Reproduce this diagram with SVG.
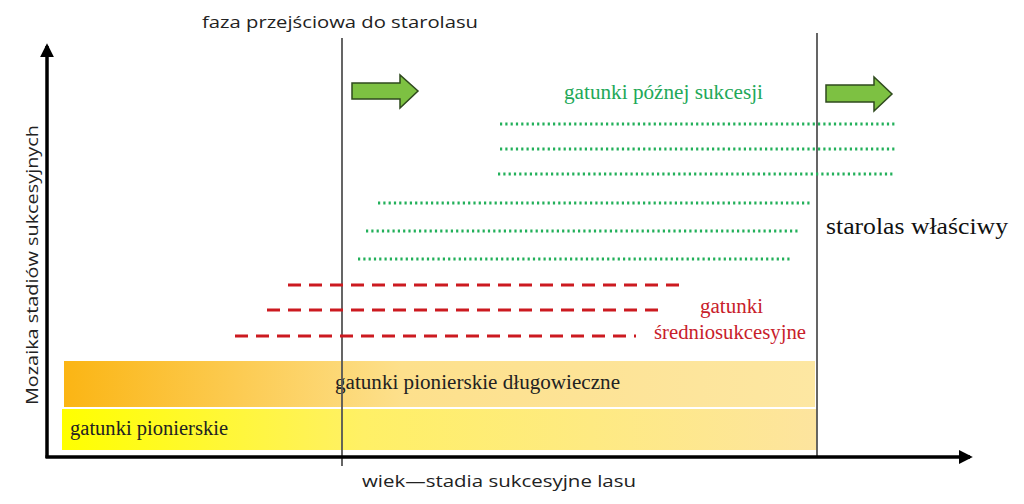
<svg xmlns="http://www.w3.org/2000/svg" width="1024" height="504" viewBox="0 0 1024 504">
<style>
.sans{font-family:"Open Sans","DejaVu Sans",sans-serif;fill:#222}
.serif{font-family:"Liberation Serif","DejaVu Serif",serif}
.axis{stroke:#000;stroke-width:3.5;fill:none}
.vline{stroke:#555;stroke-width:1.8}
.green{stroke:#22b05a;stroke-width:2.8;stroke-dasharray:2.2 3.1;fill:none}
.red{stroke:#cc1a20;stroke-width:3;stroke-dasharray:13 8;fill:none}
.garrow{fill:#7dc142;stroke:#2f4a1e;stroke-width:1.5;stroke-linejoin:miter}
</style>
<defs>
<linearGradient id="gOrange" x1="0" x2="1" y1="0" y2="0">
<stop offset="0" stop-color="#fbb514"/>
<stop offset="0.45" stop-color="#fde08c"/>
<stop offset="1" stop-color="#fde7a2"/>
</linearGradient>
<linearGradient id="gYellow" x1="0" x2="1" y1="0" y2="0">
<stop offset="0" stop-color="#ffff00"/>
<stop offset="0.4" stop-color="#fff066"/>
<stop offset="1" stop-color="#fde49e"/>
</linearGradient>
<marker id="ah" viewBox="0 0 10 10" refX="8" refY="5" markerWidth="4" markerHeight="4" orient="auto" markerUnits="strokeWidth">
<path d="M0,0 L10,5 L0,10 z" fill="#000"/>
</marker>
</defs>
<rect width="1024" height="504" fill="#fff"/>

<g id="bars">
<g id="bar-dlugowieczne">
<rect x="64" y="361" width="751" height="46" fill="url(#gOrange)"/>
<text class="serif" x="335" y="389" font-size="20" fill="#222" textLength="285" lengthAdjust="spacingAndGlyphs">gatunki pionierskie długowieczne</text>
</g>
<g id="bar-pionierskie">
<rect x="62" y="409" width="755" height="41" fill="url(#gYellow)"/>
<text class="serif" x="70" y="435" font-size="20" fill="#222" textLength="158" lengthAdjust="spacingAndGlyphs">gatunki pionierskie</text>
</g>
</g>

<g id="connectors">
<line class="vline" x1="342" y1="38" x2="342" y2="466"/>
<line class="vline" x1="817" y1="33" x2="817" y2="456"/>
<line class="axis" x1="47" y1="458" x2="47" y2="46" marker-end="url(#ah)"/>
<line class="axis" x1="45.5" y1="457" x2="970" y2="457" marker-end="url(#ah)"/>
</g>

<g id="green-lines">
<line class="green" x1="500" y1="124" x2="897" y2="124"/>
<line class="green" x1="500" y1="149" x2="897" y2="149"/>
<line class="green" x1="498" y1="174" x2="895" y2="174"/>
<line class="green" x1="378" y1="203" x2="810" y2="203"/>
<line class="green" x1="366" y1="231" x2="800" y2="231"/>
<line class="green" x1="358" y1="259" x2="790" y2="259"/>
</g>

<g id="red-lines">
<line class="red" x1="288" y1="285" x2="686" y2="285"/>
<line class="red" x1="267" y1="310" x2="666" y2="310"/>
<line class="red" x1="235" y1="336" x2="636" y2="336"/>
</g>

<g id="arrow1">
<path class="garrow" d="M352,83 L400,83 L400,75 L418,91 L400,108 L400,99 L352,99 Z"/>
</g>
<g id="arrow2">
<path class="garrow" d="M826,85 L874,85 L874,77 L892,94 L874,111 L874,102 L826,102 Z"/>
</g>

<g id="labels">
<text class="sans" x="340" y="28" font-size="17" text-anchor="middle" textLength="276" lengthAdjust="spacingAndGlyphs">faza przejściowa do starolasu</text>
<text class="serif" x="564" y="99" font-size="20" fill="#22a858" textLength="199" lengthAdjust="spacingAndGlyphs">gatunki późnej sukcesji</text>
<text class="serif" x="826" y="234" font-size="23" fill="#111" textLength="182" lengthAdjust="spacingAndGlyphs">starolas właściwy</text>
<text class="serif" x="700" y="313" font-size="20" fill="#c8202a" textLength="63" lengthAdjust="spacingAndGlyphs">gatunki</text>
<text class="serif" x="654" y="339" font-size="20" fill="#c8202a" textLength="152" lengthAdjust="spacingAndGlyphs">średniosukcesyjne</text>
<text class="sans" x="499" y="487" font-size="17" text-anchor="middle" textLength="274" lengthAdjust="spacingAndGlyphs">wiek—stadia sukcesyjne lasu</text>
<text class="sans" transform="translate(38,265) rotate(-90)" font-size="16" text-anchor="middle" textLength="280" lengthAdjust="spacingAndGlyphs">Mozaika stadiów sukcesyjnych</text>
</g>
</svg>
